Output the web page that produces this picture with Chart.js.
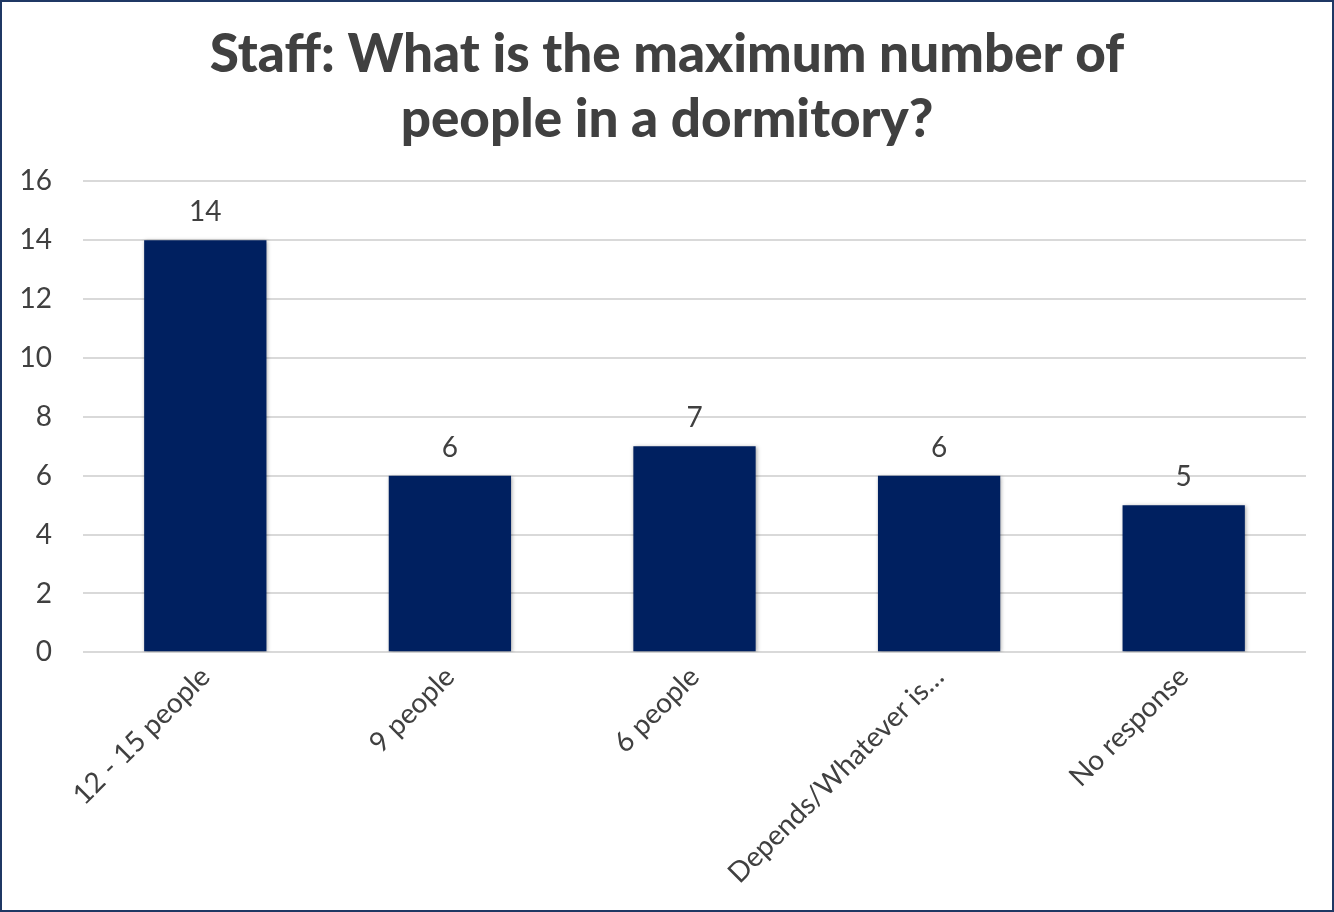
<!DOCTYPE html>
<html lang="en">
<head>
    <meta charset="UTF-8">
    <title>Staff: maximum number of people in a dormitory</title>
    <script src="https://cdn.jsdelivr.net/npm/chart.js@4"></script>
    <style>
        body { margin: 0; background: #fff; }
        .frame {
            width: 1334px;
            height: 912px;
            box-sizing: border-box;
            border: 2px solid #1f3864;
            background: #fff;
        }
        .frame canvas { display: block; }
    </style>
</head>
<body>
    <div class="frame">
        <canvas id="chart" width="1330" height="908"></canvas>
    </div>
    <script>
        // Data
        const categories = ["12 - 15 people", "9 people", "6 people", "Depends/Whatever is\u2026", "No response"];
        const counts = [14, 6, 7, 6, 5];
        const titleLines = ["Staff: What is the maximum number of", "people in a dormitory?"];

        const textColor = "#404040";
        const barColor = "#002060";

        // soft shadow under the bars
        const barShadow = {
            id: "barShadow",
            beforeDatasetsDraw(chart) {
                const ctx = chart.ctx;
                ctx.save();
                ctx.shadowColor = "rgba(0,0,0,0.35)";
                ctx.shadowBlur = 4;
                ctx.shadowOffsetX = 1;
                ctx.shadowOffsetY = 1;
            },
            afterDatasetsDraw(chart) {
                chart.ctx.restore();
            }
        };

        // draws the value above each bar
        const valueLabels = {
            id: "valueLabels",
            afterDatasetsDraw(chart) {
                const ctx = chart.ctx;
                const meta = chart.getDatasetMeta(0);
                ctx.save();
                ctx.font = "28px Lato";
                ctx.fillStyle = textColor;
                ctx.textAlign = "center";
                ctx.textBaseline = "alphabetic";
                meta.data.forEach((bar, i) => {
                    ctx.fillText(counts[i], bar.x, bar.y - 19);
                });
                ctx.restore();
            }
        };

        const ctx = document.getElementById("chart").getContext("2d");
        const chart = new Chart(ctx, {
            type: "bar",
            data: {
                labels: categories,
                datasets: [{
                    data: counts,
                    backgroundColor: barColor,
                    borderWidth: 0,
                    categoryPercentage: 1.0,
                    barPercentage: 0.5
                }]
            },
            options: {
                responsive: false,
                animation: false,
                // equal side padding keeps the title centred on the page
                layout: {
                    padding: { left: 13, right: 13, top: 4, bottom: 20 }
                },
                plugins: {
                    legend: { display: false },
                    tooltip: { enabled: false },
                    title: {
                        display: true,
                        text: titleLines,
                        color: textColor,
                        font: { family: "Lato", size: 53, weight: "900", lineHeight: 1.23 },
                        padding: { top: 16, bottom: 29 }
                    }
                },
                scales: {
                    x: {
                        grid: { display: false },
                        border: { display: false },
                        ticks: {
                            color: textColor,
                            font: { family: "Lato", size: 28 },
                            minRotation: 45,
                            maxRotation: 45,
                            padding: 0
                        }
                    },
                    y: {
                        min: 0,
                        max: 16,
                        grid: { color: "#d9d9d9", lineWidth: 2, drawTicks: false },
                        border: { display: false },
                        ticks: {
                            stepSize: 2,
                            color: textColor,
                            font: { family: "Lato", size: 28 },
                            padding: 31
                        },
                        afterFit(scale) {
                            scale.width = 68;
                        }
                    },
                    // empty right-hand axis, only reserves the right margin
                    yRight: {
                        position: "right",
                        grid: { display: false },
                        border: { display: false },
                        ticks: { display: false },
                        afterFit(scale) {
                            scale.width = 13;
                        }
                    }
                }
            },
            plugins: [barShadow, valueLabels]
        });
    </script>
</body>
</html>
